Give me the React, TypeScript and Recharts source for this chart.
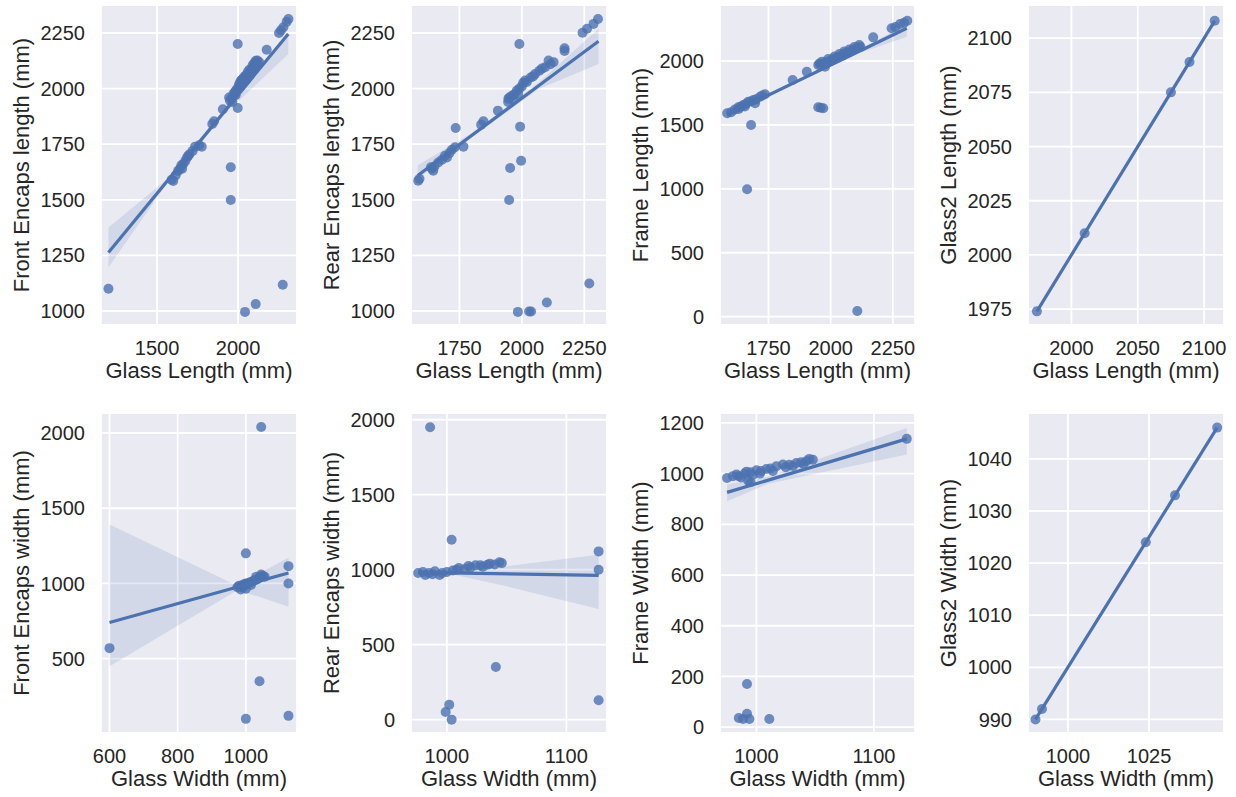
import React from "react";
import { ScatterChart, Scatter, XAxis, YAxis, CartesianGrid } from "recharts";

type Pt = [number, number];
type BandRow = [number, number, number]; // x, lower, upper

// ---- top row: against Glass Length (mm) ----
const frontEncapsLenPts: Pt[] = [
  [1200, 1100], [1590, 1590], [1600, 1585], [1630, 1630], [1642, 1640], [1650, 1655],
  [1662, 1661], [1675, 1675], [1693, 1698], [1700, 1705], [1720, 1720], [1735, 1739],
  [1760, 1745], [1776, 1739], [1841, 1841], [1852, 1853], [1906, 1907], [1950, 1946],
  [1960, 1955], [1971, 1976], [1980, 1985], [1990, 1995], [1998, 1913], [1998, 2201],
  [2000, 2003], [2005, 2015], [2010, 2025], [2018, 2036], [2025, 2040], [2035, 2050],
  [2045, 2058], [2053, 2058], [2060, 2075], [2070, 2085], [2085, 2088], [2090, 2105],
  [2100, 2115], [2110, 2125], [2119, 2126], [2130, 2120], [2177, 2175], [2253, 2250],
  [2265, 2262], [2280, 2276], [2300, 2300], [2311, 2313], [1955, 1646], [1955, 1499],
  [2043, 996], [2109, 1031], [2276, 1118], [1945, 1960], [1965, 1940], [1985, 1970],
  [2015, 2010], [2030, 2030], [2050, 2040], [2065, 2060], [2080, 2070], [2095, 2090],
  [2105, 2100], [2120, 2110], [1615, 1610], [1655, 1640], [1685, 1690],
];
const frontEncapsLenFit: Pt[] = [[1200, 1263], [2310, 2246]];
const frontEncapsLenBand: BandRow[] = [
  [1200, 1196, 1376], [1400, 1405, 1496], [1560, 1572, 1592], [1800, 1781, 1801],
  [1940, 1903, 1927], [2120, 2024, 2084], [2310, 2156, 2256],
];

const rearEncapsLenPts: Pt[] = [
  [1585, 1586], [1590, 1595], [1636, 1646], [1645, 1631], [1650, 1650], [1665, 1668],
  [1680, 1680], [1692, 1698], [1710, 1710], [1732, 1736], [1766, 1739], [1735, 1823],
  [1837, 1838], [1846, 1853], [1904, 1901], [1946, 1954], [1950, 1960], [1960, 1968],
  [1970, 1975], [1980, 1991], [1990, 2000], [2000, 2010], [2013, 2036], [2020, 2030],
  [2035, 2050], [2053, 2066], [2070, 2080], [2093, 2096], [2107, 2126], [2127, 2119],
  [2171, 2181], [2171, 2169], [2243, 2251], [2261, 2269], [2287, 2291], [2305, 2313],
  [1990, 2201], [1993, 1829], [1997, 1676], [1953, 1643], [1949, 1499], [1984, 996],
  [2029, 998], [2037, 998], [2100, 1038], [2270, 1124], [1945, 1940], [1965, 1950],
  [1985, 1975], [2005, 2025], [2045, 2055], [2080, 2090], [2115, 2110], [1640, 1640],
  [1700, 1690], [1720, 1725],
];
const rearEncapsLenFit: Pt[] = [[1583, 1609], [2307, 2213]];
const rearEncapsLenBand: BandRow[] = [
  [1583, 1595, 1655], [1800, 1780, 1800], [2067, 1998, 2028], [2190, 2056, 2151],
  [2307, 2111, 2269],
];

const frameLenPts: Pt[] = [
  [1584, 1591], [1600, 1600], [1615, 1620], [1629, 1638], [1640, 1645], [1649, 1656],
  [1660, 1665], [1669, 1682], [1680, 1685], [1696, 1669], [1700, 1700], [1716, 1721],
  [1736, 1740], [1680, 1500], [1664, 997], [1847, 1851], [1904, 1916], [1950, 1969],
  [1955, 1980], [1977, 1955], [1960, 1975], [1980, 1990], [2000, 2005], [2010, 2015],
  [2020, 2020], [2030, 2030], [2040, 2040], [2050, 2050], [2060, 2060], [2070, 2065],
  [2080, 2075], [2090, 2085], [2100, 2095], [2110, 2105], [2120, 2110], [1950, 1638],
  [1960, 1635], [1970, 1630], [2107, 45], [2171, 2185], [2245, 2256], [2260, 2265],
  [2279, 2289], [2295, 2300], [2308, 2315], [1965, 1995], [1990, 2015], [2015, 2035],
  [2035, 2055], [2055, 2075], [2075, 2090], [2095, 2110], [2115, 2125], [1630, 1625],
  [1655, 1645], [1690, 1695], [1725, 1730],
];
const frameLenFit: Pt[] = [[1584, 1578], [2306, 2256]];
const frameLenBand: BandRow[] = [
  [1584, 1553, 1603], [1900, 1867, 1883], [2100, 2051, 2075], [2306, 2190, 2290],
];

const glass2LenPts: Pt[] = [[1974, 1974], [2010, 2010], [2075, 2075], [2089, 2089], [2108, 2108]];
const glass2LenFit: Pt[] = [[1974, 1974], [2108, 2108]];
const glass2LenBand: BandRow[] = [[1974, 1973.5, 1974.5], [2108, 2107.5, 2108.5]];

// ---- bottom row: against Glass Width (mm) ----
const frontEncapsWidPts: Pt[] = [
  [600, 570], [1000, 1200], [1045, 2040], [1125, 1115], [1125, 1000], [1040, 350],
  [1000, 100], [1125, 120], [975, 975], [980, 985], [985, 980], [990, 990], [995, 995],
  [1000, 1000], [1005, 1000], [1010, 1005], [1015, 1010], [1020, 1015], [1025, 1020],
  [1030, 1025], [1035, 1030], [1040, 1040], [1045, 1045], [1050, 1050], [990, 975], [995, 985],
  [985, 960], [1000, 965], [1015, 990], [1030, 1045], [1045, 1060], [1055, 1045],
];
const frontEncapsWidFit: Pt[] = [[600, 740], [1125, 1070]];
const frontEncapsWidBand: BandRow[] = [
  [600, 450, 1392], [975, 955, 985], [1050, 903, 1081], [1125, 845, 1171],
];

const rearEncapsWidPts: Pt[] = [
  [986, 1950], [1004, 1200], [976, 978], [980, 985], [985, 978], [990, 990], [996, 978],
  [1000, 985], [1005, 995], [1010, 1011], [1015, 1005], [1020, 1015], [1024, 1029],
  [1030, 1020], [1034, 1033], [1040, 1035], [1046, 1044], [1127, 1122], [1127, 1000],
  [1041, 351], [1002, 100], [999, 51], [1004, 0], [1127, 129], [982, 965], [988, 970],
  [994, 965], [1008, 1000], [1018, 1025], [1028, 1030], [1036, 1040], [1044, 1050],
];
const rearEncapsWidFit: Pt[] = [[976, 982], [1127, 962]];
const rearEncapsWidBand: BandRow[] = [
  [976, 965, 1000], [1005, 968, 990], [1050, 889, 1023], [1127, 738, 1100],
];

const frameWidPts: Pt[] = [
  [975, 983], [983, 996], [985, 990], [990, 1000], [991.5, 1007], [995, 1005], [1000, 1013],
  [1004, 1010], [1008.5, 1018], [1012, 1020], [1017, 1029], [1022.6, 1036], [1028, 1035],
  [1034, 1042], [1038, 1045], [1042.5, 1049], [1048, 1055], [995, 966], [1128, 1137],
  [992, 170], [985, 36], [988.6, 32], [992, 53], [994, 32], [1011, 32], [980, 990],
  [987, 985], [997, 995], [1003, 1000], [1014, 1010], [1025, 1025], [1031, 1030],
  [1040, 1038], [1045, 1058], [993, 972],
];
const frameWidFit: Pt[] = [[975, 926], [1128, 1137]];
const frameWidBand: BandRow[] = [[975, 891, 957], [1010, 960, 988], [1128, 1075, 1180]];

const glass2WidPts: Pt[] = [[990, 990], [992, 992], [1024, 1024], [1033, 1033], [1046, 1046]];
const glass2WidFit: Pt[] = [[990, 990], [1046, 1046]];
const glass2WidBand: BandRow[] = [[990, 989.8, 990.2], [1046, 1045.8, 1046.2]];

// ticks
const lenTicksA = [1500, 2000];
const lenTicksB = [1750, 2000, 2250];
const glass2LenXTicks = [2000, 2050, 2100];
const encapsLenYTicks = [1000, 1250, 1500, 1750, 2000, 2250];
const frameLenYTicks = [0, 500, 1000, 1500, 2000];
const glass2LenYTicks = [1975, 2000, 2025, 2050, 2075, 2100];
const widTicksA = [600, 800, 1000];
const widTicksB = [1000, 1100];
const glass2WidXTicks = [1000, 1025];
const frontWidYTicks = [500, 1000, 1500, 2000];
const rearWidYTicks = [0, 500, 1000, 1500, 2000];
const frameWidYTicks = [0, 200, 400, 600, 800, 1000, 1200];
const glass2WidYTicks = [990, 1000, 1010, 1020, 1030, 1040];

const BLUE = "#4C72B0";
const TEXT = "#262626";
const FONT = "'Liberation Sans', Arial, sans-serif";

const colLeft = [101, 411, 720, 1028];
const colWidth = [196, 196, 195, 196];
const rowTop = [5, 413];
const PLOT_H = 320;
const Y_AXIS_W = 100;
const X_AXIS_H = 62;

const panels = [
  { col: 0, row: 0, xLabel: "Glass Length (mm)", yLabel: "Front Encaps length (mm)", pts: frontEncapsLenPts, fit: frontEncapsLenFit, band: frontEncapsLenBand, xDomain: [1154, 2364], yDomain: [937, 2376], xTicks: lenTicksA, yTicks: encapsLenYTicks },
  { col: 1, row: 0, xLabel: "Glass Length (mm)", yLabel: "Rear Encaps length (mm)", pts: rearEncapsLenPts, fit: rearEncapsLenFit, band: rearEncapsLenBand, xDomain: [1556, 2341], yDomain: [937, 2376], xTicks: lenTicksB, yTicks: encapsLenYTicks },
  { col: 2, row: 0, xLabel: "Glass Length (mm)", yLabel: "Frame Length (mm)", pts: frameLenPts, fit: frameLenFit, band: frameLenBand, xDomain: [1555, 2339], yDomain: [-65, 2438], xTicks: lenTicksB, yTicks: frameLenYTicks },
  { col: 3, row: 0, xLabel: "Glass Length (mm)", yLabel: "Glass2 Length (mm)", pts: glass2LenPts, fit: glass2LenFit, band: glass2LenBand, xDomain: [1967.3, 2115], yDomain: [1967.7, 2115.3], xTicks: glass2LenXTicks, yTicks: glass2LenYTicks },
  { col: 0, row: 1, xLabel: "Glass Width (mm)", yLabel: "Front Encaps width (mm)", pts: frontEncapsWidPts, fit: frontEncapsWidFit, band: frontEncapsWidBand, xDomain: [575, 1150], yDomain: [6, 2133], xTicks: widTicksA, yTicks: frontWidYTicks },
  { col: 1, row: 1, xLabel: "Glass Width (mm)", yLabel: "Rear Encaps width (mm)", pts: rearEncapsWidPts, fit: rearEncapsWidFit, band: rearEncapsWidBand, xDomain: [970, 1134], yDomain: [-89, 2045], xTicks: widTicksB, yTicks: rearWidYTicks },
  { col: 2, row: 1, xLabel: "Glass Width (mm)", yLabel: "Frame Width (mm)", pts: frameWidPts, fit: frameWidFit, band: frameWidBand, xDomain: [969, 1135], yDomain: [-23, 1239], xTicks: widTicksB, yTicks: frameWidYTicks },
  { col: 3, row: 1, xLabel: "Glass Width (mm)", yLabel: "Glass2 Width (mm)", pts: glass2WidPts, fit: glass2WidFit, band: glass2WidBand, xDomain: [987.7, 1048.1], yDomain: [987.4, 1048.8], xTicks: glass2WidXTicks, yTicks: glass2WidYTicks },
];

const Dot = (p: any) => <circle cx={p.cx} cy={p.cy} r={5} fill={BLUE} fillOpacity={0.8} />;
const NoDot = () => <g />;
const BandPoly = (p: any) => (
  <polygon
    points={(p.points || []).map((q: any) => `${q.x},${q.y}`).join(" ")}
    fill={BLUE}
    fillOpacity={0.15}
    stroke="none"
  />
);

function Panel({ cfg }: { cfg: (typeof panels)[number] }) {
  const left = colLeft[cfg.col] - Y_AXIS_W;
  const top = rowTop[cfg.row] - 5;
  const width = colWidth[cfg.col] + Y_AXIS_W + 5;
  const height = 5 + PLOT_H + X_AXIS_H;
  const pointData = cfg.pts.map(([x, y]) => ({ x, y }));
  const fitData = cfg.fit.map(([x, y]) => ({ x, y }));
  const bandData = [
    ...cfg.band.map(([x, lo]) => ({ x, y: lo })),
    ...cfg.band.slice().reverse().map(([x, , hi]) => ({ x, y: hi })),
  ];
  return (
    <div style={{ position: "absolute", left, top, width, height }}>
      <ScatterChart width={width} height={height} margin={{ top: 5, right: 5, bottom: 0, left: 0 }} style={{ fontFamily: FONT }}>
        <CartesianGrid fill="#EAEAF2" stroke="#ffffff" strokeWidth={1.8} />
        <XAxis
          type="number"
          dataKey="x"
          domain={cfg.xDomain}
          ticks={cfg.xTicks}
          allowDataOverflow
          axisLine={false}
          tickLine={false}
          tickSize={0}
          tickMargin={16}
          height={X_AXIS_H}
          tick={{ fontSize: 20, fill: TEXT }}
          label={{ value: cfg.xLabel, position: "insideBottom", offset: 9, fontSize: 22, fill: TEXT }}
        />
        <YAxis
          type="number"
          dataKey="y"
          domain={cfg.yDomain}
          ticks={cfg.yTicks}
          allowDataOverflow
          axisLine={false}
          tickLine={false}
          tickSize={0}
          tickMargin={16}
          width={Y_AXIS_W}
          tick={{ fontSize: 20, fill: TEXT }}
          label={{ value: cfg.yLabel, angle: -90, position: "insideLeft", offset: 20, fontSize: 22, fill: TEXT, textAnchor: "middle", style: { textAnchor: "middle" } }}
        />
        <Scatter data={pointData} shape={Dot} isAnimationActive={false} />
        <Scatter data={bandData} shape={NoDot} line={BandPoly} isAnimationActive={false} />
        <Scatter data={fitData} shape={NoDot} line={{ stroke: BLUE, strokeWidth: 3.2 }} lineJointType="linear" isAnimationActive={false} />
      </ScatterChart>
    </div>
  );
}

export default function App() {
  return (
    <div style={{ position: "absolute", left: 0, top: 0, width: 1236, height: 797, overflow: "hidden", background: "#fff" }}>
      {panels.map((cfg, i) => (
        <Panel key={i} cfg={cfg} />
      ))}
    </div>
  );
}
